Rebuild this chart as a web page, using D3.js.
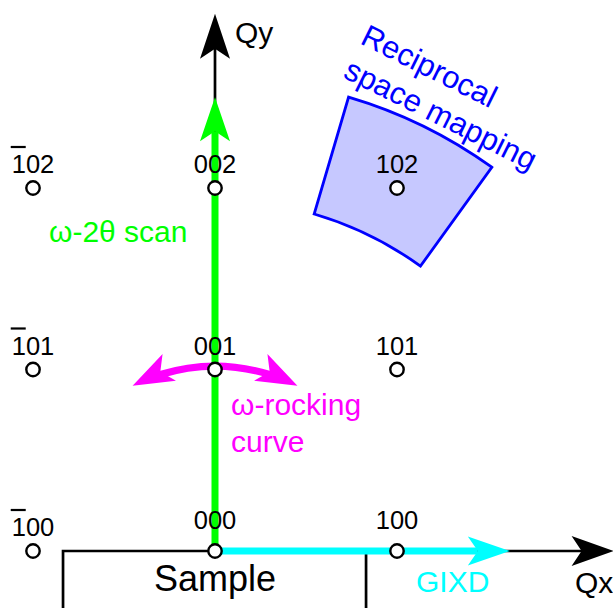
<!DOCTYPE html>
<html>
<head>
<meta charset="utf-8">
<script src="https://cdn.jsdelivr.net/npm/d3@7"></script>
<style>
  html, body { margin: 0; padding: 0; background: #fff; }
  svg { display: block; }
  text { font-family: "Liberation Sans", Arial, sans-serif; }
</style>
</head>
<body>
<div id="chart"></div>
<script>
// Reciprocal lattice sketch (h0l plane) with the usual XRD scan types
// drawn as arrows / regions. Lattice units are mapped to pixels by x / y.

const H_INDEX = [-1, 0, 1];
const L_INDEX = [0, 1, 2];
const RAISED_LABELS = ["000", "100"];   // pushed up to clear the arrows

const QY_AXIS_END     = 2.96;           // l units
const QX_AXIS_END     = 2.19;           // h units
const SCAN_2THETA_END = 2.5;
const GIXD_END        = 1.62;
const SAMPLE_EXTENT   = [-0.835, 0.83];
const ROCKING_RADIUS  = 1.015;
const ROCKING_SPAN    = [-26.5, 26.5];  // degrees from Qy
const RSM_Q           = [1.93, 2.6];
const RSM_ANGLE       = [16.4, 35.8];   // degrees from Qy

const W = 613, H = 608;
const GREEN = "#00ff00", CYAN = "#00ffff", MAGENTA = "#ff00ff", BLUE = "#0000ff";

const x = d3.scaleLinear().domain([-1, 1]).range([33, 397]);
const y = d3.scaleLinear().domain([0, 2]).range([551, 188]);
const unit = x(1) - x(0);
const ox = x(0), oy = y(0);
const rad = d => d * Math.PI / 180;

// polar point, angle clockwise from +Qy
function polar(r, deg) {
  return [ox + r * unit * Math.sin(rad(deg)), oy - r * unit * Math.cos(rad(deg))];
}

// notched "stealth" arrow head, tip at p, pointing along unit vector dir
function headPath(p, dir, L, hw, notch) {
  const [dx, dy] = dir, nx = -dy, ny = dx;
  const pts = [
    p,
    [p[0] - dx * L + nx * hw, p[1] - dy * L + ny * hw],
    [p[0] - dx * (L - notch), p[1] - dy * (L - notch)],
    [p[0] - dx * L - nx * hw, p[1] - dy * L - ny * hw],
  ];
  return "M" + pts.map(q => q.join(",")).join("L") + "Z";
}

const svg = d3.select("#chart").append("svg")
  .attr("width", W).attr("height", H)
  .attr("viewBox", `0 0 ${W} ${H}`);

// Reciprocal space mapping region
const rsmArc = d3.arc()
  .innerRadius(RSM_Q[0] * unit).outerRadius(RSM_Q[1] * unit)
  .startAngle(rad(RSM_ANGLE[0])).endAngle(rad(RSM_ANGLE[1]));
svg.append("path")
  .attr("transform", `translate(${ox},${oy})`)
  .attr("d", rsmArc())
  .attr("fill", "#c6c8ff")
  .attr("stroke", BLUE)
  .attr("stroke-width", 2.8)
  .attr("stroke-linejoin", "miter");

const rsmText = svg.append("text")
  .attr("transform", "translate(359,43) rotate(26.5)")
  .attr("fill", BLUE)
  .attr("font-size", 31);
rsmText.append("tspan").attr("x", 0).attr("y", 0).text("Reciprocal");
rsmText.append("tspan").attr("x", 0).attr("y", 38).text("space mapping");

// Sample box + Qx axis
const sx0 = x(SAMPLE_EXTENT[0]), sx1 = x(SAMPLE_EXTENT[1]);
svg.append("path")
  .attr("d", `M${sx0},${H + 5}L${sx0},${oy}L${x(QX_AXIS_END) - 30},${oy}M${sx1},${oy}L${sx1},${H + 5}`)
  .attr("fill", "none").attr("stroke", "#000").attr("stroke-width", 2.7);
svg.append("path")
  .attr("d", headPath([x(QX_AXIS_END), oy], [1, 0], 42, 15, 10))
  .attr("fill", "#000");

// Qy axis
svg.append("line")
  .attr("x1", ox).attr("x2", ox)
  .attr("y1", oy).attr("y2", y(QY_AXIS_END) + 30)
  .attr("stroke", "#000").attr("stroke-width", 2.7);
svg.append("path")
  .attr("d", headPath([ox, y(QY_AXIS_END)], [0, -1], 45, 15, 10))
  .attr("fill", "#000");

// omega-2theta scan
svg.append("line")
  .attr("x1", ox).attr("x2", ox)
  .attr("y1", oy).attr("y2", y(SCAN_2THETA_END) + 34)
  .attr("stroke", GREEN).attr("stroke-width", 7);
svg.append("path")
  .attr("d", headPath([ox, y(SCAN_2THETA_END)], [0, -1], 44, 15, 10))
  .attr("fill", GREEN);

// GIXD
svg.append("line")
  .attr("x1", ox).attr("x2", x(GIXD_END) - 32)
  .attr("y1", oy).attr("y2", oy)
  .attr("stroke", CYAN).attr("stroke-width", 7);
svg.append("path")
  .attr("d", headPath([x(GIXD_END), oy], [1, 0], 42, 14.5, 10))
  .attr("fill", CYAN);

// omega rocking curve (arc around the origin)
const rr = ROCKING_RADIUS * unit;
const trim = 30 / rr * 180 / Math.PI;
const rockArc = d3.arc()
  .innerRadius(rr - 3.6).outerRadius(rr + 3.6)
  .startAngle(rad(ROCKING_SPAN[0] + trim)).endAngle(rad(ROCKING_SPAN[1] - trim));
svg.append("path")
  .attr("transform", `translate(${ox},${oy})`)
  .attr("d", rockArc())
  .attr("fill", MAGENTA);
ROCKING_SPAN.forEach(a => {
  const s = Math.sign(a);
  const dir = [s * Math.cos(rad(a)), s * Math.sin(rad(a))];
  svg.append("path")
    .attr("d", headPath(polar(ROCKING_RADIUS, a), dir, 41, 15, 10))
    .attr("fill", MAGENTA);
});

// lattice points + labels
const points = [];
L_INDEX.forEach(l => H_INDEX.forEach(h => points.push({ h, l })));

points.forEach(d => {
  const name = `${Math.abs(d.h)}0${d.l}`;
  const raised = RAISED_LABELS.includes(name) && d.h >= 0;
  const t = svg.append("text")
    .attr("x", x(d.h))
    .attr("y", y(d.l) - (raised ? 22 : 15))
    .attr("text-anchor", "middle")
    .attr("font-size", 25.5)
    .attr("fill", "#000")
    .text(name);
  if (d.h < 0) {
    const bb = t.node().getBBox();
    svg.append("line")
      .attr("x1", bb.x - 1).attr("x2", bb.x + 14)
      .attr("y1", y(d.l) - 15 - 26).attr("y2", y(d.l) - 15 - 26)
      .attr("stroke", "#000").attr("stroke-width", 2.2);
  }
});

svg.selectAll("circle.pt")
  .data(points)
  .join("circle")
    .attr("class", "pt")
    .attr("cx", d => x(d.h))
    .attr("cy", d => y(d.l))
    .attr("r", 6.7)
    .attr("fill", "#fff")
    .attr("stroke", "#000")
    .attr("stroke-width", 2.4);

// text annotations
const note = (tx, ty, str, color, size, anchor) => svg.append("text")
  .attr("x", tx).attr("y", ty)
  .attr("fill", color)
  .attr("font-size", size)
  .attr("text-anchor", anchor || "start")
  .text(str);

note(235, 43, "Qy", "#000", 30);
note(575, 593, "Qx", "#000", 30);
note(ox, 591, "Sample", "#000", 36, "middle");
note(416, 592, "GIXD", CYAN, 30);
note(49, 242, "ω-2θ scan", GREEN, 30);
note(231, 415, "ω-rocking", MAGENTA, 30);
note(231, 452, "curve", MAGENTA, 30);
</script>
</body>
</html>
